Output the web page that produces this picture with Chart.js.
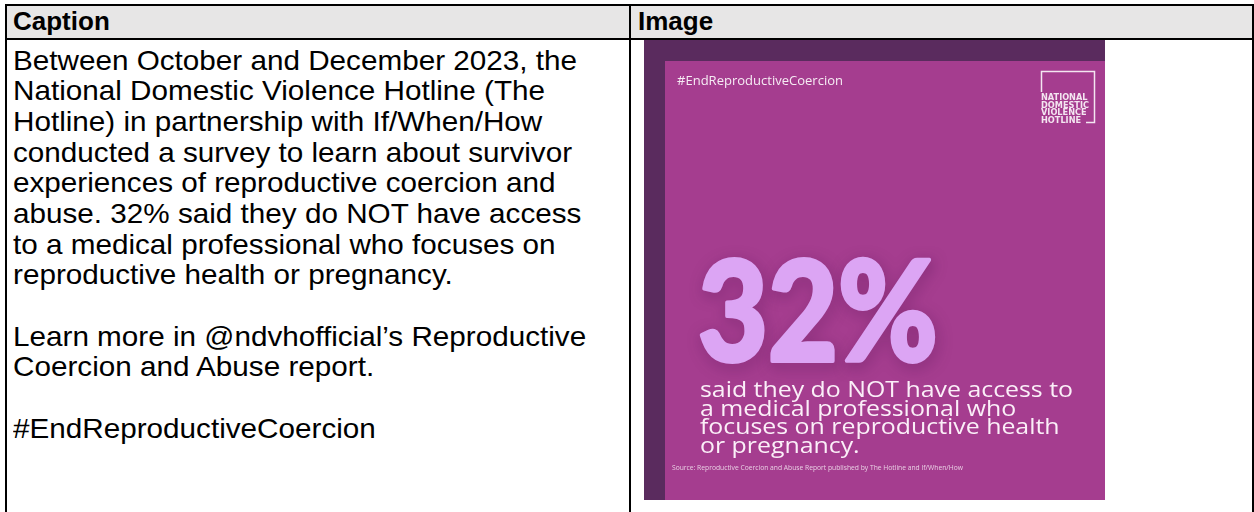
<!DOCTYPE html>
<html>
<head>
<meta charset="utf-8">
<script src="https://cdn.jsdelivr.net/npm/chart.js@4.4.1/dist/chart.umd.min.js"></script>
<style>
  html, body { margin: 0; padding: 0; background: #fff; }
  body { width: 1254px; height: 512px; position: relative; overflow: hidden; font-family: "Liberation Sans", Arial, sans-serif; }
  .line { position: absolute; background: #000; }
  .head { position: absolute; top: 5px; height: 33px; background: #e7e6e6; }
  .headtxt { position: absolute; top: 5px; line-height: 33px; font-weight: bold; font-size: 26px; color: #000; }
  #caption { position: absolute; left: 13px; top: 45.6px; font-size: 28px; line-height: 30.7px; color: #000; white-space: nowrap; }
  #caption div { height: 30.7px; }
  #poster { position: absolute; left: 644px; top: 40px; width: 461px; height: 460px; }
</style>
</head>
<body>
<div class="head" style="left:7px;width:622px"></div>
<div class="head" style="left:631px;width:621px"></div>
<div class="line" style="left:5px;top:4px;width:1249px;height:2px"></div>
<div class="line" style="left:5px;top:38px;width:1249px;height:2px"></div>
<div class="line" style="left:5px;top:4px;width:2px;height:508px"></div>
<div class="line" style="left:629px;top:4px;width:2px;height:508px"></div>
<div class="line" style="left:1252px;top:4px;width:2px;height:508px"></div>
<div class="headtxt" style="left:13px">Caption</div>
<div class="headtxt" style="left:638px">Image</div>

<div id="caption"></div>

<div id="poster"><canvas id="myChart"></canvas></div>

<script>
// caption text, line by line as in the table
const captionLines = [
  "Between October and December 2023, the",
  "National Domestic Violence Hotline (The",
  "Hotline) in partnership with If/When/How",
  "conducted a survey to learn about survivor",
  "experiences of reproductive coercion and",
  "abuse. 32% said they do NOT have access",
  "to a medical professional who focuses on",
  "reproductive health or pregnancy.",
  "",
  "Learn more in @ndvhofficial’s Reproductive",
  "Coercion and Abuse report.",
  "",
  "#EndReproductiveCoercion",
];

// data from the graphic
const statLabels = ["No access to a reproductive health professional"];
const statValues = [32];
const statText = ["said they do NOT have access to", "a medical professional who", "focuses on reproductive health", "or pregnancy."];
const hashtag = "#EndReproductiveCoercion";
const logoLines = ["NATIONAL", "DOMESTIC", "VIOLENCE", "HOTLINE"];
const sourceText = "Source: Reproductive Coercion and Abuse Report published by The Hotline and If/When/How";

const darkPurple = "#5a2b5e";
const magenta = "#a53d8f";
const lavender = "#dca5f4";

const captionBox = document.querySelector("#caption");
captionLines.forEach((t) => {
  const d = document.createElement("div");
  d.textContent = t;
  captionBox.appendChild(d);
});
// squeeze to the width of the first line in the picture (564px)
const range = document.createRange();
range.selectNodeContents(captionBox.firstChild);
const textW = range.getBoundingClientRect().width;
captionBox.style.transformOrigin = "0 0";
captionBox.style.transform = "scaleX(" + (564 / textW) + ")";

// draws the poster background and texts round the stat
const posterPlugin = {
  id: "poster",
  beforeDraw(chart) {
    const c = chart.ctx;
    const w = chart.width, h = chart.height;
    c.save();
    c.fillStyle = darkPurple;
    c.fillRect(0, 0, w, h);
    c.fillStyle = magenta;
    c.fillRect(21, 21, w - 21, h - 21);
    c.restore();
  },
  afterDraw(chart) {
    const c = chart.ctx;
    c.save();
    c.textBaseline = "alphabetic";
    c.textAlign = "left";

    // hashtag
    c.fillStyle = "rgba(255,255,255,0.9)";
    c.font = "13px 'Open Sans'";
    const hw = c.measureText(hashtag).width;
    c.save();
    c.translate(33, 45);
    c.scale(166 / hw, 1);
    c.fillText(hashtag, 0, 0);
    c.restore();

    // logo bracket
    c.strokeStyle = "#f4e6f1";
    c.lineWidth = 1.5;
    c.beginPath();
    c.moveTo(397.5, 52);
    c.lineTo(397.5, 31.5);
    c.lineTo(450.5, 31.5);
    c.lineTo(450.5, 82.5);
    c.lineTo(442, 82.5);
    c.stroke();
    c.fillStyle = "#f4e6f1";
    c.font = "bold 8px 'DejaVu Sans'";
    const lw = c.measureText("DOMESTIC").width;
    logoLines.forEach((t, i) => {
      c.save();
      c.translate(397, 60 + i * 7.6);
      c.scale(48 / lw, 1);
      c.fillText(t, 0, 0);
      c.restore();
    });

    // big stat from the dataset
    const v = chart.data.datasets[0].data[0];
    const big = v + "%";
    c.font = "900 140px Lato";
    const bw = c.measureText(big).width;
    c.save();
    c.translate(54, 321);
    c.scale(240 / bw, 1);
    c.shadowColor = "rgba(70,15,75,0.55)";
    c.shadowBlur = 14;
    c.shadowOffsetX = 2;
    c.shadowOffsetY = 4;
    c.fillStyle = lavender;
    c.strokeStyle = lavender;
    c.lineWidth = 4;
    c.lineJoin = "round";
    c.strokeText(big, 0, 0);
    c.shadowColor = "rgba(0,0,0,0)";
    c.fillText(big, 0, 0);
    c.restore();

    // body text
    c.font = "22px 'Open Sans'";
    const sx = 373 / c.measureText(statText[0]).width;
    c.fillStyle = "#fbeff8";
    statText.forEach((t, i) => {
      c.save();
      c.translate(56, 357 + i * 18.5);
      c.scale(sx, 1);
      c.fillText(t, 0, 0);
      c.restore();
    });

    // source line
    c.font = "6.2px 'Open Sans'";
    c.fillStyle = "rgba(255,255,255,0.75)";
    const sw = c.measureText(sourceText).width;
    c.save();
    c.translate(28, 430);
    c.scale(291 / sw, 1);
    c.fillText(sourceText, 0, 0);
    c.restore();
    c.restore();
  }
};

const ctx = document.querySelector("#myChart").getContext("2d");
const myChart = new Chart(ctx, {
  type: "bar",
  data: {
    labels: statLabels,
    datasets: [
      {
        label: "Survivors",
        data: statValues,
        backgroundColor: "rgba(0,0,0,0)",
        borderWidth: 0,
      },
    ],
  },
  options: {
    responsive: true,
    maintainAspectRatio: false,
    animation: false,
    events: [],
    plugins: {
      legend: { display: false },
      tooltip: { enabled: false },
    },
    scales: {
      x: { display: false },
      y: { display: false, min: 0, max: 100 },
    },
  },
  plugins: [posterPlugin],
});
</script>
</body>
</html>
